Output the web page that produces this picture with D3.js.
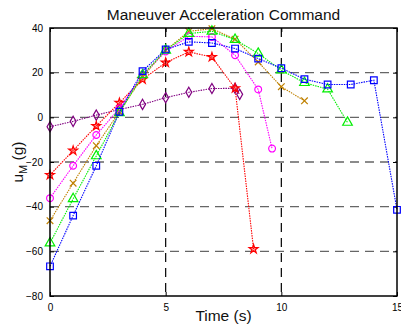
<!DOCTYPE html>
<html>
<head>
<meta charset="utf-8">
<script src="https://cdn.jsdelivr.net/npm/d3@7"></script>
<style>
  html, body { margin: 0; padding: 0; background: #fff; }
  svg { display: block; font-family: Arial, "Liberation Sans", sans-serif; }
</style>
</head>
<body>
<svg id="chart" width="401" height="333"></svg>
<script>
// Acceleration command histories, one array pair per run
const timePurple  = [0, 1, 2, 3, 4, 5, 6, 7, 8, 8.2];
const accelPurple = [-4.2, -1.8, 1.0, 3.5, 5.8, 8.8, 11.2, 12.9, 13.0, 10.3];

const timeRed  = [0, 1, 2, 3, 4, 5, 6, 7, 8, 8.8];
const accelRed = [-25.8, -14.9, -3.9, 6.5, 17.0, 24.5, 29.3, 27.0, 13.0, -59.0];

const timeOrange  = [0, 1, 2, 3, 4, 5, 6, 7, 8, 9, 10, 11];
const accelOrange = [-46.3, -29.5, -12.7, 2.5, 18.0, 30.0, 38.5, 39.7, 35.0, 24.8, 13.7, 7.4];

const timeMagenta  = [0, 1, 2, 3, 4, 5, 6, 7, 8, 9, 9.6];
const accelMagenta = [-36.2, -21.7, -7.9, 4.0, 19.0, 29.5, 36.3, 36.0, 27.8, 12.5, -14.0];

const timeGreen  = [0, 1, 2, 3, 4, 5, 6, 7, 8, 9, 10, 11, 12, 12.86];
const accelGreen = [-56.3, -36.5, -17.3, 2.0, 19.0, 30.0, 37.5, 38.5, 34.8, 28.6, 21.1, 15.5, 12.6, -2.3];

const timeBlue  = [0, 1, 2, 3, 4, 5, 6, 7, 8, 9, 10, 11, 12, 13, 14, 15];
const accelBlue = [-66.7, -44.0, -21.7, 2.5, 20.7, 30.4, 33.8, 33.3, 30.8, 26.3, 22.0, 17.1, 14.7, 14.7, 16.6, -41.4];

const xTicks = [0, 5, 10, 15];
const yTicks = [-80, -60, -40, -20, 0, 20, 40];

const titleText = "Maneuver Acceleration Command";
const xLabelText = "Time (s)";

const series = [
  { t: timePurple,  v: accelPurple,  color: "#800080", marker: "diamond" },
  { t: timeRed,     v: accelRed,     color: "#ff0000", marker: "star" },
  { t: timeOrange,  v: accelOrange,  color: "#bf8000", marker: "cross" },
  { t: timeMagenta, v: accelMagenta, color: "#ff00ff", marker: "circle" },
  { t: timeGreen,   v: accelGreen,   color: "#00ee00", marker: "triangle" },
  { t: timeBlue,    v: accelBlue,    color: "#0000ff", marker: "square" }
];

const svg = d3.select("#chart");
const plotL = 50, plotR = 397, plotT = 28, plotB = 296;

const x = d3.scaleLinear().domain([0, 15]).range([plotL, plotR]);
const y = d3.scaleLinear().domain([-80, 40]).range([plotB, plotT]);

// grid lines
const grid = svg.append("g");
grid.selectAll("line.hg")
  .data(yTicks.filter(d => d > -80 && d < 40))
  .join("line")
  .attr("class", "hg")
  .attr("x1", plotL).attr("x2", plotR)
  .attr("y1", d => y(d)).attr("y2", d => y(d))
  .attr("stroke", "#666").attr("stroke-width", 1.3)
  .attr("stroke-dasharray", "9,6");
grid.selectAll("line.vg")
  .data(xTicks.filter(d => d > 0 && d < 15))
  .join("line")
  .attr("class", "vg")
  .attr("x1", d => x(d)).attr("x2", d => x(d))
  .attr("y1", plotT).attr("y2", plotB)
  .attr("stroke", "#000").attr("stroke-width", 1.2)
  .attr("stroke-dasharray", "9,6");

// axes with inward ticks
svg.append("g").attr("transform", `translate(0,${plotB})`)
  .call(d3.axisBottom(x).tickValues(xTicks).tickSizeInner(-4).tickSizeOuter(0).tickPadding(8).tickFormat(d3.format("d")));
svg.append("g").attr("transform", `translate(${plotL},0)`)
  .call(d3.axisLeft(y).tickValues(yTicks).tickSizeInner(-4).tickSizeOuter(0).tickPadding(7).tickFormat(d3.format("d")));
svg.append("g").attr("transform", `translate(0,${plotT})`)
  .call(d3.axisTop(x).tickValues(xTicks).tickSizeInner(-4).tickSizeOuter(0).tickFormat(""));
svg.append("g").attr("transform", `translate(${plotR},0)`)
  .call(d3.axisRight(y).tickValues(yTicks).tickSizeInner(-4).tickSizeOuter(0).tickFormat(""));
svg.selectAll(".domain").remove();
svg.selectAll(".tick line").attr("stroke", "#000");
svg.selectAll(".tick text").attr("font-size", 10).attr("fill", "#000")
  .attr("font-family", "Arial, 'Liberation Sans', sans-serif");

// lines and markers
const line = d3.line().x(d => x(d[0])).y(d => y(d[1]));
const symbolFor = {
  diamond: d3.symbol().type(d3.symbolDiamond).size(30),
  star: d3.symbol().type(d3.symbolStar).size(24),
  cross: d3.symbol().type(d3.symbolTimes).size(30),
  circle: d3.symbol().type(d3.symbolCircle).size(36),
  triangle: d3.symbol().type(d3.symbolTriangle).size(40),
  square: d3.symbol().type(d3.symbolSquare).size(44)
};

series.forEach(s => {
  const pts = s.t.map((t, i) => [t, s.v[i]]);
  const g = svg.append("g");
  g.append("path").datum(pts)
    .attr("d", line)
    .attr("fill", "none")
    .attr("stroke", s.color)
    .attr("stroke-width", 1.1)
    .attr("stroke-dasharray", "1.5,1");
  g.selectAll("path.m").data(pts).join("path")
    .attr("class", "m")
    .attr("transform", d => `translate(${x(d[0])},${y(d[1])})`)
    .attr("d", symbolFor[s.marker]())
    .attr("fill", s.marker === "star" ? "rgba(255,0,0,0.35)" : "none")
    .attr("stroke", s.color)
    .attr("stroke-width", 1.2);
});

// frame
svg.append("rect")
  .attr("x", plotL).attr("y", plotT)
  .attr("width", plotR - plotL).attr("height", plotB - plotT)
  .attr("fill", "none").attr("stroke", "#000").attr("stroke-width", 1.5);

// titles
svg.append("text")
  .attr("x", (plotL + plotR) / 2).attr("y", 20)
  .attr("text-anchor", "middle").attr("font-size", 15.5).attr("fill", "#111")
  .text(titleText);
svg.append("text")
  .attr("x", (plotL + plotR) / 2).attr("y", 321)
  .attr("text-anchor", "middle").attr("font-size", 15.5).attr("fill", "#111")
  .text(xLabelText);
const yl = svg.append("text")
  .attr("transform", `translate(23,${(plotT + plotB) / 2}) rotate(-90)`)
  .attr("text-anchor", "middle").attr("font-size", 15.5).attr("fill", "#111");
yl.append("tspan").text("u");
yl.append("tspan").attr("font-size", 11).attr("dy", 4).text("M");
yl.append("tspan").attr("dy", -4).text(" (g)");
</script>
</body>
</html>
